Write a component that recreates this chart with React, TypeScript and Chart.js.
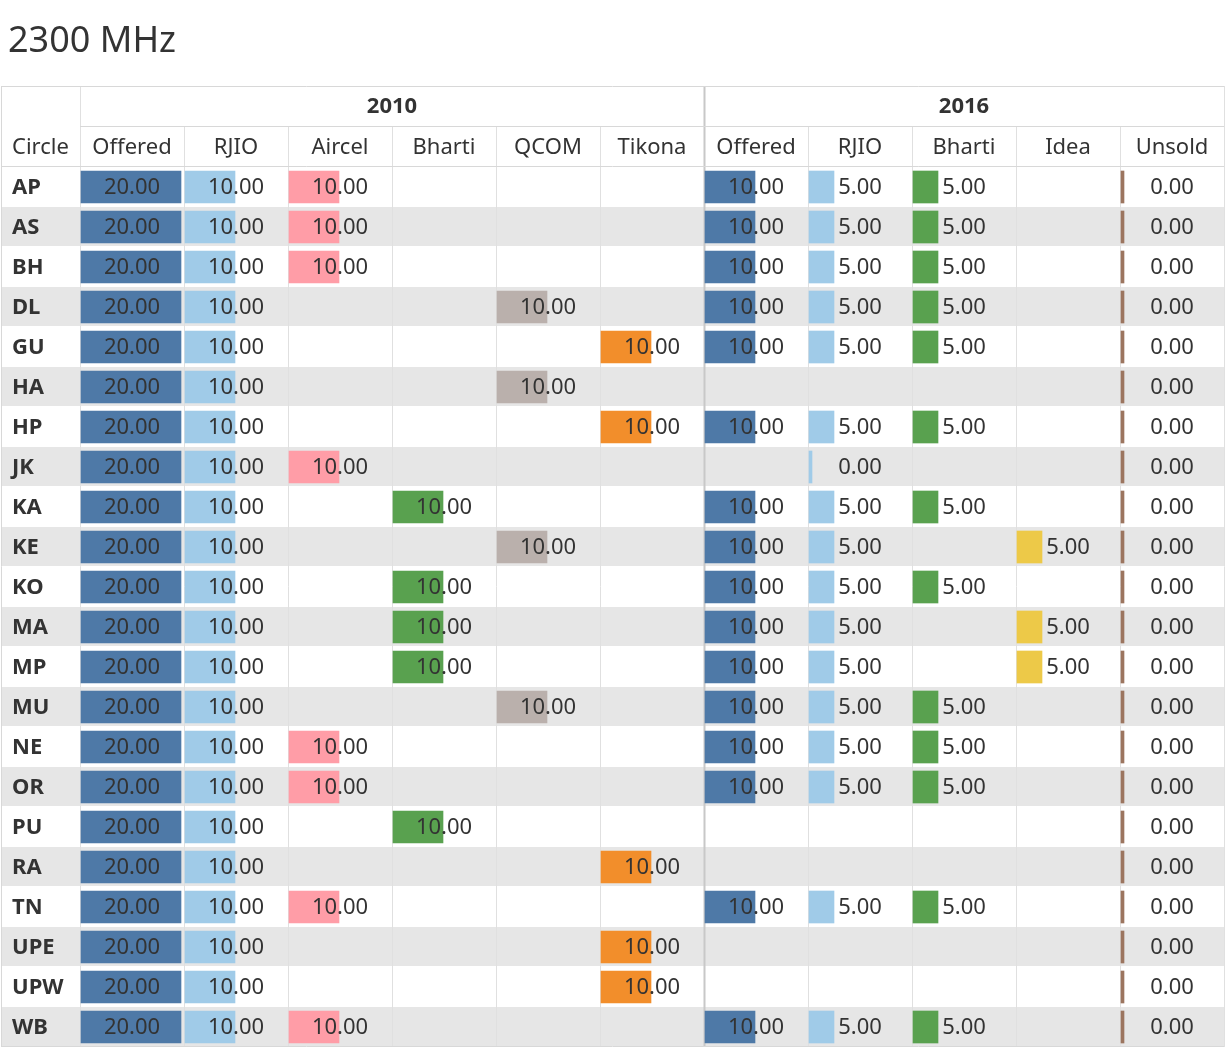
import React, { useEffect, useRef } from "react";
import { Chart, registerables } from "chart.js";
Chart.register(...registerables);

const circles = ["AP","AS","BH","DL","GU","HA","HP","JK","KA","KE","KO","MA","MP","MU","NE","OR","PU","RA","TN","UPE","UPW","WB"];
const N = null;
const offered2010 = circles.map(() => 20);
const rjio2010 = circles.map(() => 10);
const aircel2010 = [10,10,10,N,N,N,N,10,N,N,N,N,N,N,10,10,N,N,10,N,N,10];
const bharti2010 = [N,N,N,N,N,N,N,N,10,N,10,10,10,N,N,N,10,N,N,N,N,N];
const qcom2010 = [N,N,N,10,N,10,N,N,N,10,N,N,N,10,N,N,N,N,N,N,N,N];
const tikona2010 = [N,N,N,N,10,N,10,N,N,N,N,N,N,N,N,N,N,10,N,10,10,N];
const offered2016 = [10,10,10,10,10,N,10,N,10,10,10,10,10,10,10,10,N,N,10,N,N,10];
const rjio2016 = [5,5,5,5,5,N,5,0,5,5,5,5,5,5,5,5,N,N,5,N,N,5];
const bharti2016 = [5,5,5,5,5,N,5,N,5,N,5,N,N,5,5,5,N,N,5,N,N,5];
const idea2016 = [N,N,N,N,N,N,N,N,N,5,N,5,5,N,N,N,N,N,N,N,N,N];
const unsold2016 = circles.map(() => 0);

const columns = [
  { name: "Offered", data: offered2010, color: "#4e79a7" },
  { name: "RJIO", data: rjio2010, color: "#a0cbe8" },
  { name: "Aircel", data: aircel2010, color: "#ff9da7" },
  { name: "Bharti", data: bharti2010, color: "#59a14f" },
  { name: "QCOM", data: qcom2010, color: "#bab0ac" },
  { name: "Tikona", data: tikona2010, color: "#f28e2b" },
  { name: "Offered", data: offered2016, color: "#4e79a7" },
  { name: "RJIO", data: rjio2016, color: "#a0cbe8" },
  { name: "Bharti", data: bharti2016, color: "#59a14f" },
  { name: "Idea", data: idea2016, color: "#edc948" },
  { name: "Unsold", data: unsold2016, color: "#9c755f" },
];
const COLW = 20.8;
const FONT = "'Noto Sans', 'Open Sans', sans-serif";

export default function App() {
  const ref = useRef<HTMLCanvasElement>(null);
  useEffect(() => {
    const tablePlugin = {
      id: "table",
      beforeDatasetsDraw(chart: any) {
        const ctx = chart.ctx;
        const x = chart.scales.x, y = chart.scales.y;
        const W = chart.width;
        ctx.save();
        circles.forEach((_, i) => {
          const c = y.getPixelForValue(i);
          ctx.fillStyle = i % 2 ? "#e6e6e6" : "#ffffff";
          ctx.fillRect(1, c - 20, W - 5, 40);
          ctx.fillStyle = "#ffffff";
          ctx.fillRect(1, c + 19, W - 5, 1);
        });
        // vertical lines
        const left = x.getPixelForValue(0);
        for (let k = 0; k <= 11; k++) {
          const px = Math.round(x.getPixelForValue(k * COLW)) + 0.5;
          ctx.strokeStyle = k === 6 ? "#c8c8c8" : "#e0e0e0";
          ctx.lineWidth = k === 6 ? 2 : 1;
          ctx.beginPath();
          ctx.moveTo(px, k === 0 || k === 6 || k === 11 ? 86 : 126);
          ctx.lineTo(px, chart.chartArea.bottom);
          ctx.stroke();
        }
        ctx.strokeStyle = "#d8d8d8";
        ctx.lineWidth = 1;
        ctx.beginPath();
        ctx.moveTo(1.5, 86); ctx.lineTo(1.5, chart.chartArea.bottom);
        ctx.moveTo(1, 86.5); ctx.lineTo(x.getPixelForValue(11 * COLW), 86.5);
        ctx.moveTo(left, 126.5); ctx.lineTo(x.getPixelForValue(11 * COLW), 126.5);
        ctx.moveTo(1, 166.5); ctx.lineTo(x.getPixelForValue(11 * COLW), 166.5);
        ctx.moveTo(1, chart.chartArea.bottom - 0.5); ctx.lineTo(x.getPixelForValue(11 * COLW), chart.chartArea.bottom - 0.5);
        ctx.stroke();
        ctx.restore();
      },
      afterDatasetsDraw(chart: any) {
        const ctx = chart.ctx;
        const x = chart.scales.x, y = chart.scales.y;
        ctx.save();
        ctx.fillStyle = "#333333";
        ctx.textBaseline = "middle";
        ctx.font = `36px ${FONT}`;
        ctx.textAlign = "left";
        ctx.fillText("2300 MHz", 8, 42);
        ctx.font = `bold 22px ${FONT}`;
        ctx.textAlign = "center";
        ctx.fillText("2010", (x.getPixelForValue(0) + x.getPixelForValue(6 * COLW)) / 2, 107);
        ctx.fillText("2016", (x.getPixelForValue(6 * COLW) + x.getPixelForValue(11 * COLW)) / 2, 107);
        ctx.font = `22px ${FONT}`;
        ctx.textAlign = "left";
        ctx.fillText("Circle", 12, 148);
        ctx.textAlign = "center";
        columns.forEach((col, k) => {
          const cx = x.getPixelForValue(k * COLW + COLW / 2);
          ctx.fillText(col.name, cx, 148);
          col.data.forEach((v, i) => {
            if (v == null) return;
            ctx.fillText(v.toFixed(2), cx, y.getPixelForValue(i) + 1);
          });
        });
        ctx.font = `bold 22px ${FONT}`;
        ctx.textAlign = "left";
        circles.forEach((c, i) => ctx.fillText(c, 12, y.getPixelForValue(i) + 1));
        ctx.restore();
      },
    };
    const chart = new Chart(ref.current!, {
      type: "bar",
      data: {
        labels: circles,
        datasets: columns.map((col, k) => ({
          label: col.name,
          data: col.data.map((v) => (v == null ? null : [k * COLW + 0.2, k * COLW + 0.2 + v])) as any,
          backgroundColor: col.color,
          grouped: false,
          barThickness: 32,
          minBarLength: 3,
          borderSkipped: false,
        })),
      },
      options: {
        indexAxis: "y",
        animation: false,
        responsive: true,
        maintainAspectRatio: false,
        layout: { padding: { left: 80, top: 167, right: 4, bottom: 1 } },
        plugins: { legend: { display: false }, tooltip: { enabled: false } },
        scales: {
          x: { display: false, min: 0, max: 11 * COLW },
          y: { display: false },
        },
      },
      plugins: [tablePlugin],
    });
    return () => chart.destroy();
  }, []);
  return (
    <div style={{ position: "absolute", left: 0, top: 0, width: 1228, height: 1048, background: "#fff" }}>
      <canvas ref={ref} />
    </div>
  );
}
